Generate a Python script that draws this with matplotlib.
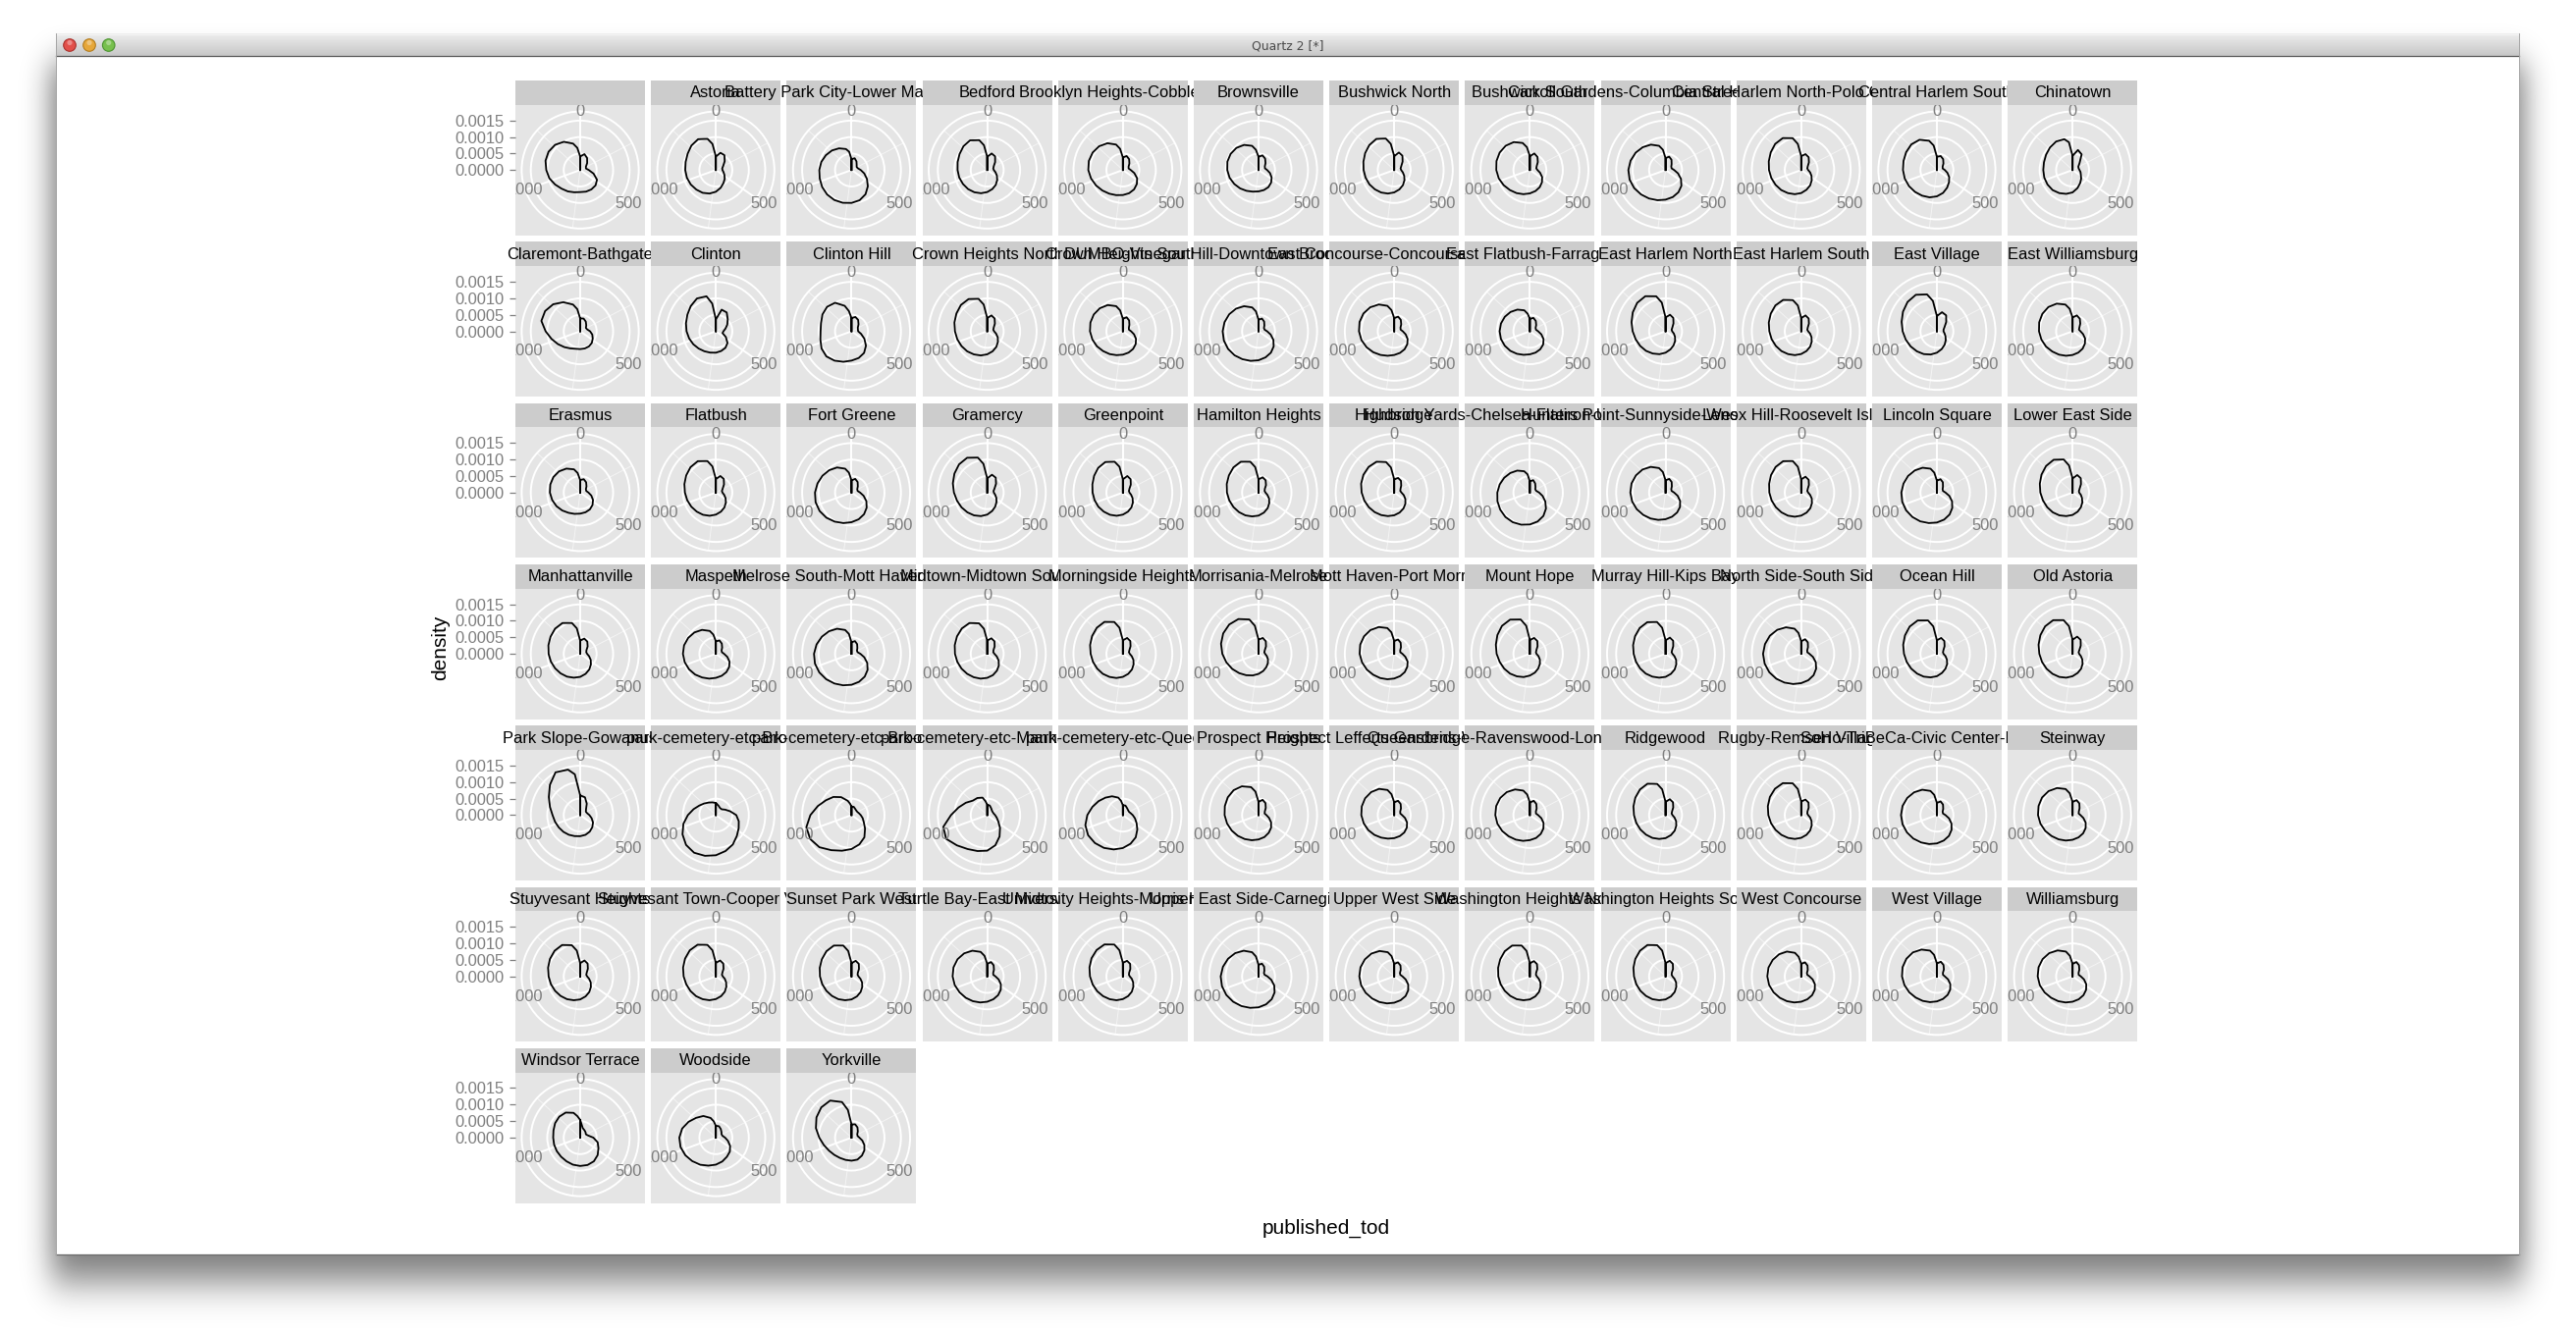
import math
import numpy as np
import matplotlib
matplotlib.use("Agg")
import matplotlib.pyplot as plt
from matplotlib.patches import Rectangle, Circle

plt.rcParams["font.family"] = ["Liberation Sans", "DejaVu Sans"]

W_PX, H_PX = 2624, 1357

# ---- data -------------------------------------------------------------
# published_tod sample points (minutes after midnight)
TOD = [0, 60, 120, 180, 240, 300, 360, 420, 480, 540, 600, 660, 720,
       780, 840, 900, 960, 1020, 1080, 1140, 1200, 1260, 1320, 1380, 1410, 1440]
THETA_BREAKS = [0, 500, 1000]
THETA_MINOR = [250, 750, 1250]
THETA_MAX = 1440
DENSITY_BREAKS = [0.0, 0.0005, 0.0010, 0.0015]
DENSITY_LABELS = ["0.0000", "0.0005", "0.0010", "0.0015"]
DENSITY_MAX = 0.00158
DENSITY_UNIT = 1e-4   # density values below are in units of 1e-4

NAMES_ROW1 = ["", "Astoria", "Battery Park City-Lower Manhattan", "Bedford",
              "Brooklyn Heights-Cobble Hill", "Brownsville", "Bushwick North",
              "Bushwick South", "Carroll Gardens-Columbia Street-Red Hook",
              "Central Harlem North-Polo Grounds", "Central Harlem South", "Chinatown"]
DENS_ROW1 = [
    [4.1, 5.0, 4.2, 3.0, 2.0, 1.8, 2.6, 4.2, 5.9, 6.6, 6.8, 6.8, 6.7, 7.0, 7.5, 8.0, 8.8, 9.7, 10.3, 10.9, 11.1, 10.8, 9.9, 8.3, 6.8, 4.1],
    [4.1, 5.4, 5.2, 3.8, 2.6, 2.0, 2.0, 2.4, 3.0, 3.8, 4.6, 5.6, 6.6, 7.4, 8.0, 8.4, 8.8, 9.1, 9.3, 9.5, 9.9, 10.5, 10.8, 9.8, 8.0, 4.1],
    [3.3, 3.7, 3.0, 2.2, 1.8, 2.0, 2.8, 4.0, 5.4, 7.0, 8.5, 9.5, 10.0, 10.3, 10.5, 10.5, 10.3, 10.0, 9.8, 9.5, 9.0, 8.4, 7.6, 6.6, 5.6, 3.3],
    [4.0, 5.2, 4.8, 3.4, 2.3, 1.9, 2.0, 2.6, 3.4, 4.3, 5.2, 6.0, 6.7, 7.3, 7.8, 8.2, 8.5, 8.8, 9.0, 9.3, 9.7, 10.2, 10.4, 9.4, 7.6, 4.0],
    [3.8, 4.4, 3.8, 2.8, 2.0, 1.8, 2.4, 3.6, 5.0, 6.0, 6.8, 7.3, 7.6, 7.9, 8.3, 8.8, 9.4, 10.0, 10.5, 10.7, 10.6, 10.2, 9.4, 8.0, 6.5, 3.8],
    [4.0, 4.6, 4.0, 3.0, 2.2, 2.0, 2.6, 3.6, 4.6, 5.4, 6.0, 6.3, 6.5, 6.8, 7.3, 7.9, 8.5, 9.1, 9.5, 9.8, 9.8, 9.5, 8.8, 7.6, 6.2, 4.0],
    [4.2, 5.5, 5.0, 3.6, 2.5, 2.0, 2.1, 2.7, 3.5, 4.4, 5.3, 6.1, 6.8, 7.4, 7.9, 8.3, 8.7, 9.0, 9.3, 9.7, 10.2, 10.7, 10.9, 9.9, 8.0, 4.2],
    [4.2, 5.2, 4.6, 3.4, 2.4, 2.0, 2.3, 3.2, 4.3, 5.2, 6.0, 6.6, 7.1, 7.6, 8.1, 8.6, 9.2, 9.8, 10.2, 10.5, 10.6, 10.4, 9.8, 8.5, 7.0, 4.2],
    [3.6, 4.2, 3.6, 2.6, 2.0, 1.9, 2.6, 3.9, 5.4, 6.8, 7.8, 8.5, 9.0, 9.5, 10.0, 10.5, 11.0, 11.3, 11.3, 11.0, 10.5, 9.8, 8.9, 7.6, 6.2, 3.6],
    [4.2, 5.0, 4.5, 3.3, 2.3, 1.9, 2.1, 2.8, 3.6, 4.5, 5.4, 6.2, 7.0, 7.6, 8.1, 8.6, 9.0, 9.4, 9.8, 10.2, 10.7, 11.2, 11.2, 10.0, 8.0, 4.2],
    [4.0, 4.4, 3.8, 2.8, 2.0, 1.8, 2.4, 3.3, 4.3, 5.2, 6.2, 7.2, 8.0, 8.6, 9.0, 9.4, 9.8, 10.1, 10.3, 10.5, 10.8, 11.0, 10.6, 9.2, 7.5, 4.0],
    [4.3, 6.3, 5.5, 3.0, 2.0, 1.9, 2.1, 2.5, 2.9, 3.7, 4.6, 5.7, 6.8, 7.5, 8.1, 8.6, 8.8, 8.9, 8.9, 9.0, 9.3, 9.7, 10.0, 9.7, 8.5, 4.3],
]

NAMES_ROW2 = ["Claremont-Bathgate", "Clinton", "Clinton Hill", "Crown Heights North",
              "Crown Heights South", "DUMBO-Vinegar Hill-Downtown Brooklyn-Boerum Hill",
              "East Concourse-Concourse Village", "East Flatbush-Farragut",
              "East Harlem North", "East Harlem South", "East Village", "East Williamsburg"]
DENS_ROW2 = [
    [3.9, 4.0, 3.4, 2.6, 2.0, 2.2, 3.0, 3.8, 4.4, 5.0, 5.3, 5.4, 5.4, 5.5, 6.0, 6.8, 7.8, 9.0, 10.5, 12.2, 12.3, 11.6, 10.2, 8.4, 6.8, 3.9],
    [3.6, 6.8, 6.6, 5.1, 4.0, 3.0, 2.3, 2.1, 3.5, 5.0, 5.8, 6.2, 6.5, 6.7, 7.0, 7.4, 7.9, 8.4, 8.9, 9.4, 10.0, 10.8, 11.5, 11.0, 8.5, 3.6],
    [4.0, 4.5, 4.0, 3.0, 2.2, 2.0, 2.0, 3.0, 4.5, 6.2, 7.6, 8.4, 8.9, 9.6, 10.3, 10.8, 10.5, 9.8, 9.4, 9.6, 10.2, 10.5, 10.0, 8.0, 6.2, 4.0],
    [4.0, 5.0, 4.5, 3.3, 2.3, 1.9, 2.1, 2.8, 3.7, 4.6, 5.5, 6.3, 7.0, 7.6, 8.1, 8.6, 9.0, 9.4, 9.8, 10.3, 10.8, 11.3, 11.3, 10.2, 8.2, 4.0],
    [3.8, 4.4, 3.8, 2.8, 2.1, 1.9, 2.5, 3.5, 4.6, 5.5, 6.2, 6.7, 7.1, 7.5, 8.0, 8.5, 9.1, 9.6, 10.0, 10.2, 10.2, 9.9, 9.2, 7.9, 6.4, 3.8],
    [3.5, 4.0, 3.4, 2.5, 1.9, 1.9, 2.6, 3.8, 5.2, 6.5, 7.5, 8.2, 8.8, 9.3, 9.8, 10.3, 10.7, 10.9, 10.9, 10.7, 10.3, 9.7, 8.8, 7.5, 6.1, 3.5],
    [4.0, 4.6, 4.0, 3.0, 2.2, 2.0, 2.6, 3.6, 4.7, 5.6, 6.3, 6.8, 7.2, 7.7, 8.3, 9.0, 9.7, 10.3, 10.7, 10.9, 10.8, 10.3, 9.4, 8.0, 6.5, 4.0],
    [3.8, 4.2, 3.6, 2.7, 2.0, 1.9, 2.5, 3.6, 4.8, 5.7, 6.3, 6.7, 7.0, 7.4, 7.9, 8.4, 8.8, 9.1, 9.2, 9.1, 8.8, 8.3, 7.6, 6.6, 5.4, 3.8],
    [4.2, 5.2, 4.7, 3.4, 2.4, 1.9, 2.0, 2.6, 3.3, 4.1, 4.9, 5.7, 6.5, 7.2, 7.8, 8.4, 8.9, 9.4, 10.0, 10.7, 11.5, 12.2, 12.3, 11.0, 8.8, 4.2],
    [4.0, 5.0, 4.5, 3.3, 2.3, 1.9, 2.1, 2.8, 3.6, 4.5, 5.4, 6.2, 6.9, 7.5, 8.0, 8.5, 8.9, 9.3, 9.7, 10.2, 10.7, 11.1, 11.0, 9.8, 7.9, 4.0],
    [4.6, 6.0, 5.6, 4.0, 2.7, 2.1, 2.0, 2.4, 3.0, 3.8, 4.7, 5.6, 6.5, 7.3, 8.0, 8.6, 9.2, 9.8, 10.4, 11.1, 11.9, 12.6, 12.8, 11.6, 9.3, 4.6],
    [4.2, 5.0, 4.4, 3.3, 2.4, 2.0, 2.4, 3.3, 4.4, 5.3, 6.1, 6.7, 7.2, 7.7, 8.2, 8.7, 9.3, 9.8, 10.2, 10.5, 10.6, 10.4, 9.7, 8.4, 6.9, 4.2],
]

NAMES_ROW3 = ["Erasmus", "Flatbush", "Fort Greene", "Gramercy", "Greenpoint",
              "Hamilton Heights", "Highbridge", "Hudson Yards-Chelsea-Flatiron-Union Square",
              "Hunters Point-Sunnyside-West Maspeth", "Lenox Hill-Roosevelt Island",
              "Lincoln Square", "Lower East Side"]
DENS_ROW3 = [
    [3.8, 4.2, 3.6, 2.7, 2.0, 1.9, 2.5, 3.5, 4.5, 5.3, 5.9, 6.2, 6.4, 6.7, 7.1, 7.7, 8.3, 8.8, 9.2, 9.4, 9.4, 9.1, 8.4, 7.3, 6.0, 3.8],
    [4.1, 5.2, 4.8, 3.5, 2.4, 1.9, 2.0, 2.6, 3.4, 4.3, 5.2, 6.0, 6.7, 7.3, 7.8, 8.2, 8.6, 9.0, 9.4, 9.9, 10.4, 10.9, 11.0, 9.9, 8.0, 4.1],
    [3.7, 4.3, 3.7, 2.7, 2.0, 1.9, 2.6, 3.8, 5.2, 6.5, 7.6, 8.4, 9.0, 9.6, 10.2, 10.8, 11.2, 11.3, 11.1, 10.7, 10.2, 9.6, 8.8, 7.5, 6.1, 3.7],
    [4.3, 5.6, 5.2, 3.8, 2.6, 2.0, 2.0, 2.5, 3.2, 4.0, 4.9, 5.8, 6.7, 7.4, 8.0, 8.5, 9.0, 9.5, 10.1, 10.8, 11.5, 12.1, 12.2, 11.0, 8.8, 4.3],
    [4.0, 5.2, 4.7, 3.4, 2.3, 1.9, 2.0, 2.6, 3.4, 4.3, 5.2, 6.0, 6.7, 7.3, 7.8, 8.2, 8.6, 8.9, 9.2, 9.6, 10.1, 10.6, 10.7, 9.7, 7.9, 4.0],
    [4.0, 4.8, 4.3, 3.2, 2.2, 1.9, 2.1, 2.8, 3.7, 4.6, 5.5, 6.3, 7.0, 7.5, 8.0, 8.4, 8.8, 9.2, 9.6, 10.0, 10.4, 10.8, 10.8, 9.7, 7.8, 4.0],
    [4.0, 4.6, 4.1, 3.0, 2.2, 1.9, 2.2, 3.0, 3.9, 4.8, 5.6, 6.3, 6.9, 7.4, 7.9, 8.4, 8.9, 9.4, 9.9, 10.4, 10.8, 11.0, 10.8, 9.6, 7.7, 4.0],
    [3.4, 3.9, 3.2, 2.4, 1.9, 2.0, 2.8, 4.0, 5.4, 6.9, 8.2, 9.1, 9.7, 10.1, 10.4, 10.5, 10.4, 10.2, 9.9, 9.5, 9.0, 8.4, 7.7, 6.7, 5.6, 3.4],
    [3.7, 4.3, 3.7, 2.7, 2.0, 1.9, 2.6, 3.8, 5.1, 6.2, 7.0, 7.6, 8.1, 8.6, 9.1, 9.6, 10.1, 10.5, 10.7, 10.7, 10.4, 9.9, 9.0, 7.7, 6.3, 3.7],
    [4.0, 5.0, 4.5, 3.3, 2.3, 1.9, 2.1, 2.8, 3.7, 4.6, 5.5, 6.3, 7.0, 7.6, 8.1, 8.5, 8.9, 9.3, 9.7, 10.1, 10.6, 11.0, 11.0, 9.9, 7.9, 4.0],
    [3.6, 4.2, 3.6, 2.6, 2.0, 1.9, 2.6, 3.9, 5.3, 6.6, 7.7, 8.5, 9.1, 9.6, 10.1, 10.5, 10.8, 10.9, 10.8, 10.5, 10.1, 9.5, 8.7, 7.5, 6.1, 3.6],
    [4.3, 5.5, 5.0, 3.6, 2.5, 2.0, 2.0, 2.6, 3.3, 4.2, 5.1, 6.0, 6.8, 7.4, 8.0, 8.5, 8.9, 9.3, 9.8, 10.3, 10.9, 11.4, 11.5, 10.4, 8.3, 4.3],
]

NAMES_ROW4 = ["Manhattanville", "Maspeth", "Melrose South-Mott Haven North",
              "Midtown-Midtown South", "Morningside Heights", "Morrisania-Melrose",
              "Mott Haven-Port Morris", "Mount Hope", "Murray Hill-Kips Bay",
              "North Side-South Side", "Ocean Hill", "Old Astoria"]
DENS_ROW4 = [
    [4.0, 4.8, 4.3, 3.2, 2.2, 1.9, 2.1, 2.8, 3.7, 4.6, 5.5, 6.3, 7.0, 7.5, 8.0, 8.4, 8.8, 9.2, 9.6, 10.0, 10.4, 10.8, 10.8, 9.7, 7.8, 4.0],
    [3.8, 4.2, 3.6, 2.7, 2.0, 1.9, 2.5, 3.6, 4.8, 5.7, 6.4, 6.9, 7.3, 7.8, 8.3, 8.9, 9.4, 9.8, 10.0, 10.0, 9.7, 9.2, 8.4, 7.2, 5.9, 3.8],
    [3.5, 4.0, 3.4, 2.5, 1.9, 1.9, 2.7, 4.0, 5.5, 6.9, 8.0, 8.8, 9.4, 9.9, 10.4, 10.9, 11.3, 11.5, 11.4, 11.0, 10.4, 9.7, 8.8, 7.5, 6.1, 3.5],
    [4.0, 4.9, 4.4, 3.2, 2.2, 1.9, 2.2, 3.0, 4.0, 5.0, 5.9, 6.7, 7.3, 7.8, 8.2, 8.6, 9.0, 9.4, 9.8, 10.2, 10.6, 10.9, 10.8, 9.6, 7.7, 4.0],
    [4.1, 5.0, 4.5, 3.3, 2.3, 1.9, 2.1, 2.8, 3.7, 4.6, 5.5, 6.3, 7.0, 7.6, 8.1, 8.6, 9.0, 9.4, 9.8, 10.3, 10.8, 11.2, 11.2, 10.0, 8.0, 4.1],
    [4.3, 5.0, 4.4, 3.2, 2.2, 1.8, 2.0, 2.6, 3.3, 4.0, 4.7, 5.4, 6.1, 6.8, 7.5, 8.3, 9.2, 10.1, 11.0, 11.8, 12.4, 12.6, 12.2, 10.8, 8.6, 4.3],
    [3.9, 4.5, 3.9, 2.9, 2.1, 1.9, 2.5, 3.5, 4.7, 5.6, 6.4, 7.0, 7.5, 8.0, 8.5, 9.0, 9.6, 10.1, 10.5, 10.7, 10.6, 10.2, 9.4, 8.1, 6.6, 3.9],
    [4.2, 5.0, 4.5, 3.3, 2.3, 1.9, 2.0, 2.7, 3.5, 4.3, 5.1, 5.9, 6.6, 7.3, 7.9, 8.5, 9.0, 9.5, 10.1, 10.7, 11.4, 12.0, 12.0, 10.8, 8.6, 4.2],
    [4.1, 5.1, 4.6, 3.3, 2.3, 1.9, 2.1, 2.8, 3.7, 4.6, 5.5, 6.3, 7.0, 7.5, 8.0, 8.5, 8.9, 9.3, 9.7, 10.2, 10.7, 11.1, 11.1, 10.0, 8.0, 4.1],
    [3.8, 4.6, 4.0, 2.9, 2.1, 1.9, 2.5, 3.7, 5.1, 6.4, 7.5, 8.3, 8.9, 9.5, 10.1, 10.7, 11.2, 11.5, 11.6, 11.4, 11.0, 10.3, 9.3, 7.9, 6.4, 3.8],
    [4.1, 5.0, 4.5, 3.3, 2.3, 1.9, 2.0, 2.7, 3.5, 4.4, 5.2, 6.0, 6.8, 7.4, 8.0, 8.5, 9.0, 9.5, 10.0, 10.6, 11.2, 11.7, 11.7, 10.5, 8.4, 4.1],
    [4.3, 5.4, 4.9, 3.5, 2.4, 1.9, 2.0, 2.6, 3.4, 4.3, 5.2, 6.0, 6.8, 7.5, 8.1, 8.6, 9.1, 9.6, 10.1, 10.7, 11.3, 11.8, 11.8, 10.6, 8.5, 4.3],
]

NAMES_ROW5 = ["Park Slope-Gowanus", "park-cemetery-etc-Bronx", "park-cemetery-etc-Brooklyn",
              "park-cemetery-etc-Manhattan", "park-cemetery-etc-Queens", "Prospect Heights",
              "Prospect Lefferts Gardens-Wingate", "Queensbridge-Ravenswood-Long Island City",
              "Ridgewood", "Rugby-Remsen Village", "SoHo-TriBeCa-Civic Center-Little Italy",
              "Steinway"]
DENS_ROW5 = [
    [6.0, 5.6, 4.0, 2.5, 2.0, 2.2, 2.8, 3.6, 4.5, 5.2, 5.8, 6.2, 6.4, 6.6, 6.9, 7.2, 7.5, 7.9, 8.4, 9.5, 11.0, 13.0, 15.0, 14.3, 12.5, 6.0],
    [3.7, 3.0, 2.5, 2.5, 3.3, 4.5, 6.2, 7.2, 8.0, 9.0, 10.3, 11.3, 12.2, 12.8, 13.2, 12.8, 11.7, 10.2, 8.5, 7.0, 5.8, 5.0, 4.4, 4.0, 3.8, 3.7],
    [2.6, 2.6, 2.2, 2.0, 2.0, 2.3, 2.8, 3.5, 4.3, 5.8, 7.8, 9.2, 10.3, 11.2, 12.3, 13.8, 14.5, 14.2, 12.5, 10.6, 9.0, 7.8, 6.3, 4.5, 3.5, 2.6],
    [3.2, 3.0, 2.4, 2.0, 1.9, 2.0, 2.4, 3.0, 3.9, 5.5, 7.5, 9.5, 10.8, 11.3, 11.9, 13.0, 14.4, 13.8, 11.0, 9.0, 7.5, 6.2, 6.0, 5.5, 4.3, 3.2],
    [3.0, 3.0, 2.5, 2.2, 2.1, 2.4, 3.0, 3.8, 4.8, 6.2, 7.8, 9.0, 10.0, 10.8, 11.5, 12.0, 12.2, 11.8, 10.8, 9.6, 8.5, 7.5, 6.6, 5.5, 4.4, 3.0],
    [4.0, 4.8, 4.2, 3.1, 2.2, 1.9, 2.4, 3.3, 4.4, 5.4, 6.2, 6.9, 7.4, 7.9, 8.4, 8.9, 9.4, 9.9, 10.3, 10.6, 10.8, 10.7, 10.1, 8.8, 7.2, 4.0],
    [3.9, 4.5, 3.9, 2.9, 2.1, 1.9, 2.4, 3.4, 4.5, 5.4, 6.1, 6.6, 7.0, 7.4, 7.9, 8.5, 9.1, 9.6, 10.0, 10.2, 10.2, 9.9, 9.2, 7.9, 6.4, 3.9],
    [3.8, 4.5, 3.9, 2.9, 2.1, 1.9, 2.5, 3.6, 4.8, 5.8, 6.6, 7.2, 7.6, 8.1, 8.6, 9.1, 9.7, 10.2, 10.5, 10.6, 10.4, 9.9, 9.0, 7.7, 6.3, 3.8],
    [4.0, 5.0, 4.5, 3.3, 2.3, 1.9, 2.1, 2.8, 3.7, 4.6, 5.5, 6.3, 7.0, 7.5, 8.0, 8.4, 8.8, 9.2, 9.6, 10.1, 10.6, 11.0, 11.0, 9.8, 7.9, 4.0],
    [4.1, 4.9, 4.4, 3.2, 2.2, 1.9, 2.1, 2.8, 3.6, 4.5, 5.4, 6.2, 6.9, 7.5, 8.0, 8.5, 9.0, 9.5, 10.0, 10.5, 11.0, 11.3, 11.2, 10.0, 8.0, 4.1],
    [3.7, 4.3, 3.7, 2.7, 2.0, 1.9, 2.6, 3.8, 5.1, 6.3, 7.3, 8.0, 8.6, 9.1, 9.6, 10.1, 10.5, 10.8, 10.9, 10.8, 10.4, 9.8, 8.9, 7.6, 6.2, 3.7],
    [4.0, 4.7, 4.1, 3.0, 2.2, 1.9, 2.4, 3.4, 4.6, 5.6, 6.4, 7.0, 7.5, 8.0, 8.5, 9.0, 9.6, 10.1, 10.5, 10.7, 10.7, 10.3, 9.5, 8.2, 6.7, 4.0],
]

NAMES_ROW6 = ["Stuyvesant Heights", "Stuyvesant Town-Cooper Village", "Sunset Park West",
              "Turtle Bay-East Midtown", "University Heights-Morris Heights",
              "Upper East Side-Carnegie Hill", "Upper West Side", "Washington Heights North",
              "Washington Heights South", "West Concourse", "West Village", "Williamsburg"]
DENS_ROW6 = [
    [4.0, 5.0, 4.5, 3.3, 2.3, 1.9, 2.1, 2.8, 3.7, 4.6, 5.5, 6.3, 7.0, 7.5, 8.0, 8.4, 8.8, 9.2, 9.6, 10.1, 10.6, 11.0, 11.0, 9.8, 7.9, 4.0],
    [4.1, 5.0, 4.5, 3.3, 2.3, 1.9, 2.1, 2.8, 3.6, 4.5, 5.4, 6.2, 6.9, 7.5, 8.0, 8.5, 8.9, 9.3, 9.8, 10.3, 10.8, 11.2, 11.1, 9.9, 8.0, 4.1],
    [4.0, 4.9, 4.4, 3.2, 2.2, 1.9, 2.1, 2.8, 3.7, 4.6, 5.5, 6.3, 7.0, 7.5, 8.0, 8.4, 8.8, 9.2, 9.6, 10.0, 10.4, 10.8, 10.8, 9.7, 7.8, 4.0],
    [3.8, 4.5, 3.9, 2.9, 2.1, 1.9, 2.5, 3.6, 4.8, 5.8, 6.6, 7.2, 7.7, 8.2, 8.7, 9.2, 9.7, 10.2, 10.5, 10.6, 10.4, 9.9, 9.0, 7.7, 6.3, 3.8],
    [4.1, 4.9, 4.4, 3.2, 2.2, 1.9, 2.1, 2.8, 3.6, 4.5, 5.4, 6.2, 6.9, 7.5, 8.0, 8.5, 9.0, 9.5, 10.0, 10.5, 11.0, 11.3, 11.2, 10.0, 8.0, 4.1],
    [3.5, 4.0, 3.4, 2.5, 1.9, 1.9, 2.7, 4.0, 5.5, 6.9, 8.0, 8.8, 9.4, 9.9, 10.4, 10.9, 11.3, 11.5, 11.5, 11.2, 10.7, 10.0, 9.0, 7.6, 6.1, 3.5],
    [3.8, 4.4, 3.8, 2.8, 2.0, 1.9, 2.5, 3.6, 4.9, 6.0, 6.9, 7.5, 8.0, 8.5, 9.0, 9.5, 10.0, 10.4, 10.6, 10.6, 10.3, 9.8, 8.9, 7.6, 6.2, 3.8],
    [4.0, 4.8, 4.3, 3.2, 2.2, 1.9, 2.1, 2.8, 3.7, 4.6, 5.5, 6.3, 7.0, 7.5, 8.0, 8.4, 8.8, 9.2, 9.6, 10.0, 10.4, 10.8, 10.8, 9.7, 7.8, 4.0],
    [4.0, 4.9, 4.4, 3.2, 2.2, 1.9, 2.1, 2.8, 3.7, 4.6, 5.5, 6.3, 7.0, 7.5, 8.0, 8.4, 8.8, 9.2, 9.6, 10.1, 10.6, 11.0, 11.0, 9.8, 7.9, 4.0],
    [3.8, 4.4, 3.8, 2.8, 2.0, 1.9, 2.5, 3.6, 4.8, 5.8, 6.6, 7.2, 7.7, 8.2, 8.7, 9.2, 9.7, 10.1, 10.3, 10.3, 10.0, 9.5, 8.7, 7.4, 6.0, 3.8],
    [3.9, 4.6, 4.0, 3.0, 2.1, 1.9, 2.4, 3.5, 4.7, 5.7, 6.5, 7.1, 7.6, 8.1, 8.6, 9.1, 9.7, 10.2, 10.6, 10.8, 10.7, 10.3, 9.4, 8.1, 6.6, 3.9],
    [3.8, 4.5, 3.9, 2.9, 2.1, 1.9, 2.5, 3.6, 4.8, 5.8, 6.6, 7.2, 7.7, 8.2, 8.7, 9.2, 9.8, 10.3, 10.6, 10.7, 10.5, 10.0, 9.1, 7.8, 6.3, 3.8],
]

NAMES_ROW7 = ["Windsor Terrace", "Woodside", "Yorkville"]
DENS_ROW7 = [
    [5.4, 3.0, 2.6, 2.3, 2.0, 2.5, 4.0, 5.5, 6.4, 7.5, 8.3, 8.6, 8.6, 8.5, 8.3, 8.2, 8.2, 8.2, 8.2, 8.4, 8.8, 9.0, 8.8, 7.8, 6.6, 5.4],
    [3.6, 3.6, 3.0, 2.4, 2.0, 2.1, 2.8, 3.8, 5.0, 6.0, 6.7, 7.5, 8.2, 8.8, 9.5, 10.1, 10.7, 11.1, 11.1, 10.6, 9.6, 8.5, 7.6, 6.2, 5.0, 3.6],
    [4.0, 4.2, 3.6, 2.7, 2.0, 1.9, 2.4, 3.4, 4.5, 5.5, 6.3, 6.9, 7.0, 7.0, 7.1, 7.4, 7.9, 8.7, 9.8, 11.2, 12.3, 13.0, 13.0, 11.2, 8.5, 4.0],
]

NAMES = NAMES_ROW1 + NAMES_ROW2 + NAMES_ROW3 + NAMES_ROW4 + NAMES_ROW5 + NAMES_ROW6 + NAMES_ROW7
DENSITIES = DENS_ROW1 + DENS_ROW2 + DENS_ROW3 + DENS_ROW4 + DENS_ROW5 + DENS_ROW6 + DENS_ROW7

# ---- layout (pixels of the screenshot) -------------------------------
N_COL = 12
X0, PITCH_X, PANEL_W = 525.0, 138.2, 132.0
Y0, PITCH_Y, STRIP_H, PANEL_H = 82.0, 164.3, 24.7, 133.0
WIN_L, WIN_R, WIN_T, WIN_B, BAR_B = 57, 2566, 34, 1278, 57

GREY50 = "#7F7F7F"
FS_SMALL = 11.9
FS_TITLE = 15


def to_theta(minutes):
    return np.asarray(minutes, dtype=float) / THETA_MAX * 2 * np.pi


def fig_box(x, y, w, h):
    return [x / W_PX, 1 - (y + h) / H_PX, w / W_PX, h / H_PX]


fig = plt.figure(figsize=(W_PX / 100, H_PX / 100), dpi=100)
fig.patch.set_facecolor("white")

# ---- window chrome ---------------------------------------------------
chrome = fig.add_axes([0, 0, 1, 1], zorder=-5)
erf = np.vectorize(math.erf)
xs = np.arange(W_PX) + 0.5
ys = np.arange(H_PX) + 0.5
fx = 0.5 * (erf((xs - 52) / 20) - erf((xs - 2571) / 20))
fy = 0.5 * (erf((ys - 64) / 24) - erf((ys - 1305) / 28))
shade = 1 - 0.52 * np.outer(fy, fx)
chrome.imshow(shade, cmap="gray", vmin=0, vmax=1, extent=(0, W_PX, H_PX, 0),
              interpolation="bilinear", aspect="auto")
chrome.add_patch(Rectangle((WIN_L, BAR_B), WIN_R - WIN_L, WIN_B - BAR_B,
                           facecolor="white", edgecolor="none"))
bar = np.linspace(0, 1, 40)[:, None]
top_c, bot_c = np.array([0.93, 0.93, 0.93]), np.array([0.78, 0.78, 0.78])
grad = (top_c[None, None, :] * (1 - bar[..., None]) + bot_c[None, None, :] * bar[..., None])
chrome.imshow(grad, extent=(WIN_L, WIN_R, BAR_B, WIN_T), aspect="auto", interpolation="bilinear")
chrome.plot([WIN_L, WIN_R], [BAR_B - 0.5, BAR_B - 0.5], color="#5a5a5a", lw=0.9)
chrome.plot([WIN_L, WIN_R], [WIN_T + 0.5, WIN_T + 0.5], color="#f4f4f4", lw=0.8)
chrome.plot([WIN_L, WIN_R], [WIN_B, WIN_B], color="#6a6a6a", lw=0.9)
chrome.plot([WIN_L, WIN_L], [WIN_T, WIN_B], color="#a5a5a5", lw=0.7)
chrome.plot([WIN_R, WIN_R], [WIN_T, WIN_B], color="#a5a5a5", lw=0.7)
for cxl, fc, ec in [(71, "#e2504a", "#a8322d"), (91, "#e6a73a", "#b27c1f"), (110.7, "#78c04e", "#4b9330")]:
    chrome.add_patch(Circle((cxl, 46), 6.3, facecolor=fc, edgecolor=ec, lw=0.8))
    chrome.add_patch(Circle((cxl, 43.5), 2.6, facecolor="white", edgecolor="none", alpha=0.35))
chrome.text((WIN_L + WIN_R) / 2, 46.5, "Quartz 2 [*]", ha="center", va="center",
            fontsize=8.9, color="#4a4a4a", family="DejaVu Sans")
chrome.set_xlim(0, W_PX)
chrome.set_ylim(H_PX, 0)
chrome.axis("off")

# ---- facets ----------------------------------------------------------
R_OUT = DENSITY_MAX * 0.45 / 0.4
R_HALF = DENSITY_MAX * 0.5 / 0.4

for i, (name, dens) in enumerate(zip(NAMES, DENSITIES)):
    row, col = divmod(i, N_COL)
    left = X0 + col * PITCH_X
    top = Y0 + row * PITCH_Y
    ptop = top + STRIP_H

    # strip (later strips paint over the overflow of earlier labels)
    chrome.add_patch(Rectangle((left, top), PANEL_W, STRIP_H, facecolor="#CCCCCC",
                               edgecolor="none", zorder=2 + 2 * i))
    if name:
        chrome.text(left + PANEL_W / 2, top + STRIP_H / 2 + 0.5, name, ha="center", va="center",
                    fontsize=FS_SMALL, color="black", zorder=3 + 2 * i)

    # panel background + y axis
    ax_bg = fig.add_axes(fig_box(left, ptop, PANEL_W, PANEL_H))
    ax_bg.set_facecolor("#E5E5E5")
    ax_bg.set_xlim(-R_HALF, R_HALF)
    ax_bg.set_ylim(-R_HALF, R_HALF)
    for s in ax_bg.spines.values():
        s.set_visible(False)
    ax_bg.set_xticks([])
    if col == 0:
        ax_bg.set_yticks(DENSITY_BREAKS)
        ax_bg.set_yticklabels(DENSITY_LABELS)
        ax_bg.tick_params(axis="y", length=4.6, width=0.9, color=GREY50,
                          labelcolor=GREY50, labelsize=FS_SMALL, pad=4)
    else:
        ax_bg.set_yticks([])

    # polar panel
    cx, cy = left + PANEL_W / 2, ptop + PANEL_H / 2
    rad = 0.45 * (PANEL_W + PANEL_H) / 2
    axp = fig.add_axes(fig_box(cx - rad, cy - rad, 2 * rad, 2 * rad), projection="polar")
    axp.set_facecolor("none")
    axp.set_theta_zero_location("N")
    axp.set_theta_direction(-1)
    axp.set_ylim(0, R_OUT)
    axp.set_xticks(to_theta(THETA_BREAKS))
    axp.set_xticks(to_theta(THETA_MINOR), minor=True)
    axp.set_yticks(DENSITY_BREAKS[1:])
    axp.set_xticklabels([])
    axp.set_yticklabels([])
    axp.tick_params(which="both", length=0)
    axp.grid(True, which="major", color="white", lw=1.4)
    axp.xaxis.grid(True, which="minor", color="#F4F4F4", lw=0.7)
    for key, s in axp.spines.items():
        if key == "polar":
            s.set_color("white")
            s.set_linewidth(1.4)
        else:
            s.set_visible(False)

    r = [0.0] + [v * DENSITY_UNIT for v in dens] + [0.0]
    th = to_theta([0] + TOD + [THETA_MAX])
    axp.plot(th, r, color="black", lw=1.3, solid_joinstyle="round", zorder=5)

    for b in THETA_BREAKS:
        t = axp.text(to_theta(b), R_OUT, str(b), ha="center", va="center",
                     fontsize=FS_SMALL, color=GREY50, zorder=6)
        t.set_clip_path(None)
        t.set_clip_box(ax_bg.bbox)
        t.set_clip_on(True)

# axis titles
n_rows = (len(NAMES) + N_COL - 1) // N_COL
grid_top = Y0
grid_bot = Y0 + (n_rows - 1) * PITCH_Y + STRIP_H + PANEL_H
grid_mid_x = X0 + ((N_COL - 1) * PITCH_X + PANEL_W) / 2
chrome.text(448.5, (grid_top + grid_bot) / 2 + 6, "density", rotation=90, ha="center",
            va="center", fontsize=FS_TITLE, color="black", zorder=200)
chrome.text(grid_mid_x, 1251, "published_tod", ha="center", va="center",
            fontsize=FS_TITLE, color="black", zorder=200)

fig.savefig("out.png", dpi=100, facecolor="white")
